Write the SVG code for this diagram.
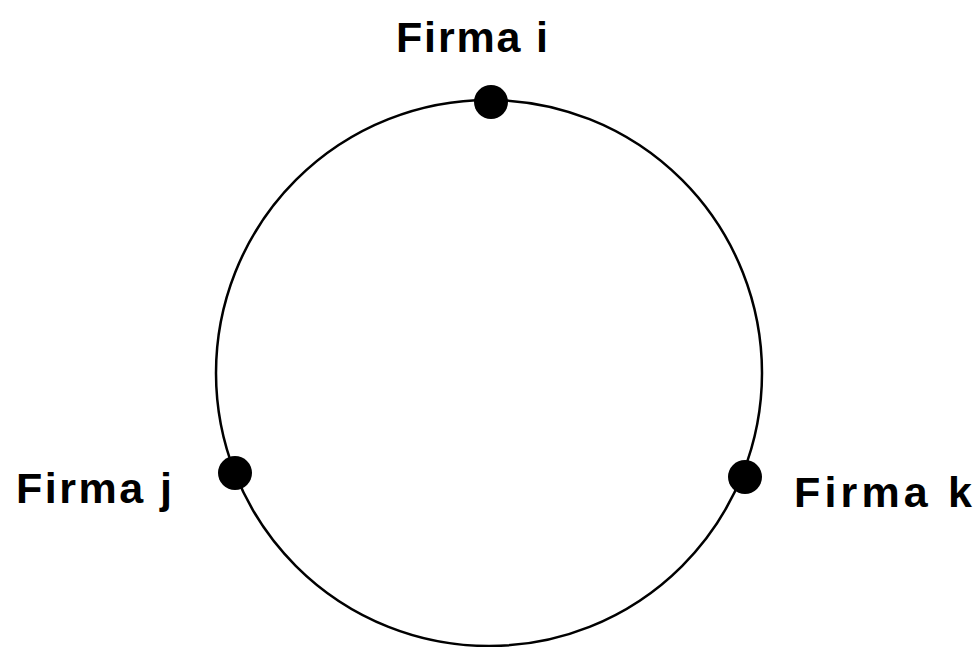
<svg xmlns="http://www.w3.org/2000/svg" width="973" height="647" viewBox="0 0 973 647">
<style>
.lbl{font-family:"Liberation Sans",Arial,sans-serif;font-weight:bold;font-size:43px;fill:#000}
.dot{fill:#000}
</style>
<rect width="973" height="647" fill="#fff"/>
<g id="connectors">
<circle cx="489" cy="373" r="273" fill="none" stroke="#000" stroke-width="2.5"/>
</g>
<g id="firma-i">
<circle class="dot" cx="491" cy="102" r="17"/>
<text class="lbl" x="396" y="52" textLength="152" lengthAdjust="spacing">Firma i</text>
</g>
<g id="firma-j">
<circle class="dot" cx="235" cy="473" r="17"/>
<text class="lbl" x="16" y="503" textLength="156" lengthAdjust="spacing">Firma j</text>
</g>
<g id="firma-k">
<circle class="dot" cx="745" cy="477" r="17"/>
<text class="lbl" x="794" y="507" textLength="178" lengthAdjust="spacing">Firma k</text>
</g>
</svg>
